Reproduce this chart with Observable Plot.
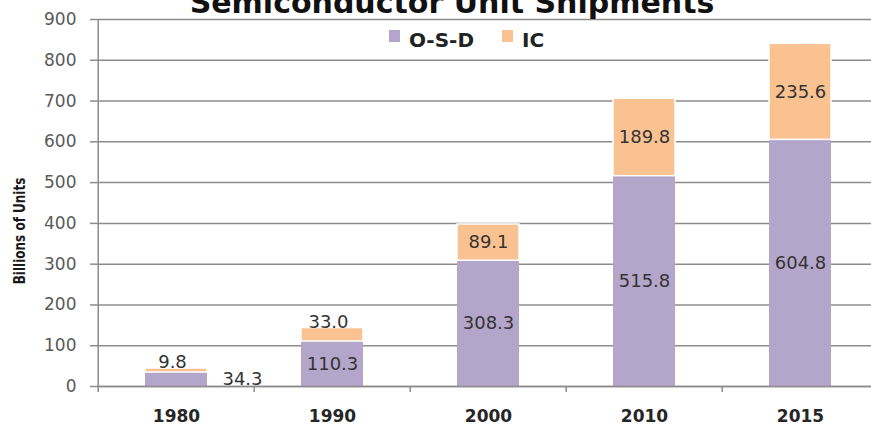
<!DOCTYPE html>
<html><head><meta charset="utf-8">
<script src="https://cdn.jsdelivr.net/npm/d3@7"></script>
<script src="https://cdn.jsdelivr.net/npm/@observablehq/plot@0.6"></script>
<style>
body{margin:0;background:#fff;}
#wrap{position:relative;width:871px;height:425px;overflow:hidden;font-family:"DejaVu Sans",sans-serif;}
#title{position:absolute;top:-12px;left:452px;transform:translateX(-50%);white-space:nowrap;font-size:30px;line-height:30px;font-weight:bold;color:#111;z-index:2;}
#legend{position:absolute;top:30px;left:389px;display:flex;align-items:center;font-size:20px;line-height:20px;font-weight:bold;color:#222;background:#fff;z-index:2;}
#legend .item{display:flex;align-items:center;margin-right:28px;}
#legend .sw{width:11px;height:12px;margin-right:9px;position:relative;top:-4px;}
#ylab{position:absolute;left:20px;top:231px;transform:translate(-50%,-50%) rotate(-90deg) scaleX(0.8);font-size:15px;line-height:15px;font-weight:bold;white-space:nowrap;color:#1a1a1a;z-index:2;}
#chart{position:absolute;left:0;top:0;}
</style></head>
<body>
<div id="wrap">
  <div id="chart"></div>
  <div id="title"></div>
  <div id="legend"></div>
  <div id="ylab"></div>
</div>
<script>
const titleText = "Semiconductor Unit Shipments";
const yLabel = "Billions of Units";
const years = ["1980","1990","2000","2010","2015"];
const osd = [34.3, 110.3, 308.3, 515.8, 604.8];
const ic = [9.8, 33.0, 89.1, 189.8, 235.6];
const series = ["O-S-D","IC"];
const colors = ["#b4a6ca","#fac291"];
const yTicks = [0,100,200,300,400,500,600,700,800,900];

const rows = years.flatMap((y,i)=>[
  {year:y, series:"O-S-D", value:osd[i], y1:0, y2:osd[i]},
  {year:y, series:"IC", value:ic[i], y1:osd[i], y2:osd[i]+ic[i]}
]);

document.getElementById("title").textContent = titleText;
document.getElementById("ylab").textContent = yLabel;
const leg = document.getElementById("legend");
series.forEach((s,i)=>{
  const it = document.createElement("div"); it.className="item";
  const sw = document.createElement("span"); sw.className="sw"; sw.style.background=colors[i];
  const tx = document.createElement("span"); tx.textContent=s;
  it.appendChild(sw); it.appendChild(tx); leg.appendChild(it);
});

const W=871,H=425,ML=97,MR=-9,MT=19,MB=39;
const step=(W-ML-MR)/years.length;
const grid="#8c8c8c";
const mid = d=>(d.y1+d.y2)/2;
const fmt = d=>d.value.toFixed(1);

const chart = Plot.plot({
  width:W,height:H,marginLeft:ML,marginRight:MR,marginTop:MT,marginBottom:MB,
  style:{fontFamily:"DejaVu Sans", background:"white", overflow:"hidden"},
  x:{domain:years, paddingInner:0.6, paddingOuter:0.3, label:null},
  y:{domain:[0,900], label:null},
  color:{domain:series, range:colors},
  marks:[
    Plot.gridY(yTicks,{stroke:grid,strokeOpacity:1,strokeWidth:1.5}),
    Plot.barY(rows.filter(d=>d.series==="O-S-D"),{x:"year",y1:"y1",y2:"y2",fill:"series"}),
    Plot.barY(rows.filter(d=>d.series==="IC"),{x:"year",y1:"y1",y2:"y2",fill:"series",stroke:"white",strokeWidth:1.5}),
    Plot.ruleY([0],{stroke:grid,strokeWidth:1.5}),
    Plot.ruleX(years,{x:d=>d,dx:-step/2,y1:-15,y2:0,stroke:grid,strokeWidth:1.5}),
    Plot.ruleX([years[0]],{x:d=>d,dx:-step/2,y1:0,y2:900,stroke:grid,strokeWidth:1.5}),
    Plot.axisY(yTicks,{tickSize:7,tickPadding:14,fontSize:17,fill:"#595959",stroke:grid,strokeWidth:1.5,label:null}),
    Plot.axisX({tickSize:0,tickPadding:23,fontSize:17,fontWeight:"bold",fill:"#262626",label:null}),
    Plot.text(rows.filter(d=>d.value>=50),{x:"year",y:mid,text:fmt,fontSize:18,fill:"#333"}),
    Plot.text(rows.filter(d=>d.series==="O-S-D"&&d.value<50),{x:"year",y:mid,text:fmt,fontSize:18,fill:"#333",dx:66}),
    Plot.text(rows.filter(d=>d.series==="IC"&&d.value<50),{x:"year",y:"y2",text:fmt,fontSize:18,fill:"#333",dy:-6,dx:-4})
  ]
});
document.getElementById("chart").appendChild(chart);
</script>
</body></html>
